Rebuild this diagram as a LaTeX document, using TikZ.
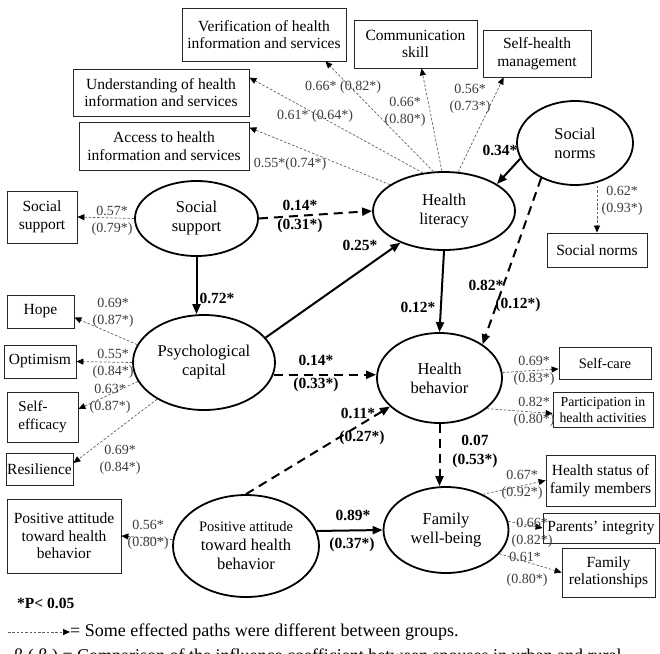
\documentclass[tikz,border=0pt]{standalone}
\usepackage{fontspec}
\setmainfont{Liberation Serif}
\usetikzlibrary{arrows.meta,calc,shapes.geometric}
\definecolor{lblgray}{RGB}{60,60,60}
\definecolor{indgray}{RGB}{95,95,95}
\begin{document}
\begin{tikzpicture}[x=1pt,y=-1pt,
 box/.style={draw=black!85, line width=0.8pt, align=center, inner sep=0pt, font=\fontsize{15.5}{17.5}\selectfont},
 smallbox/.style={box, font=\fontsize{13.8}{16}\selectfont},
 lat/.style={ellipse, draw, line width=1.8pt, align=center, inner sep=0pt, font=\fontsize{16.5}{19}\selectfont},
 lbl/.style={text=lblgray, align=center, inner sep=0pt, font=\fontsize{14}{16.5}\selectfont},
 blbl/.style={align=center, inner sep=0pt, font=\fontsize{15.5}{19}\selectfont\bfseries},
 ind/.style={draw=indgray, line width=0.7pt, dash pattern=on 2.5pt off 1.8pt, -{Triangle[length=7pt,width=6pt,color=black]}},
 sp/.style={line width=2pt, -{Triangle[length=10pt,width=8pt]}},
 dp/.style={sp, dash pattern=on 9pt off 6pt}]
\useasboundingbox (0,0) rectangle (660,653);

% indicator boxes
\node[box, minimum width=164pt, minimum height=53pt] (ver) at (264,34.5) {Verification of health\\information and services};
\node[box, minimum width=176pt, minimum height=47pt] (und) at (161,92.5) {Understanding of health\\information and services};
\node[box, minimum width=170pt, minimum height=48pt] (acc) at (164,146) {Access to health\\information and services};
\node[box, minimum width=123pt, minimum height=48pt] (comm) at (415.5,44) {Communication\\skill};
\node[box, minimum width=108pt, minimum height=47pt] (shm) at (537,53.5) {Self-health\\management};
\node[box, minimum width=100pt, minimum height=34pt] (snb) at (597,250) {Social norms};
\node[box, minimum width=70pt, minimum height=52pt] (ssb) at (42,217) {Social\\support};
\node[box, minimum width=67pt, minimum height=33pt] (hope) at (40.5,311.5) {Hope};
\node[box, minimum width=72pt, minimum height=33pt] (opt) at (40,361.5) {Optimism};
\node[box, font=\fontsize{15}{18}\selectfont, align=left, minimum width=71pt, minimum height=50pt] (se) at (42.5,417) {Self-\\efficacy};
\node[box, minimum width=67pt, minimum height=32pt] (res) at (39.5,469) {Resilience};
\node[smallbox, font=\fontsize{14.5}{16}\selectfont, minimum width=92pt, minimum height=32pt] (sc) at (605,363) {Self-care};
\node[smallbox, minimum width=100pt, minimum height=35pt] (part) at (603,409.5) {Participation in\\health activities};
\node[box, minimum width=109pt, minimum height=51pt] (hs) at (600.5,480.5) {Health status of\\family members};
\node[box, minimum width=116pt, minimum height=30pt] (pi) at (601,528) {Parents' integrity};
\node[box, minimum width=93pt, minimum height=49pt] (fr) at (608.5,572.5) {Family\\relationships};
\node[box, minimum width=114pt, minimum height=74pt] (pab) at (64,536) {Positive attitude\\toward health\\behavior};

% latent variables
\node[lat, minimum width=116pt, minimum height=84pt] (SN) at (575,143) {Social\\norms};
\node[lat, minimum width=142pt, minimum height=78pt] (HL) at (444,211) {Health\\literacy};
\node[lat, minimum width=123pt, minimum height=75pt] (SS) at (196.5,218.5) {Social\\support};
\node[lat, minimum width=142pt, minimum height=95pt] (PC) at (204,362.5) {Psychological\\capital};
\node[lat, minimum width=125pt, minimum height=90pt] (HB) at (439.5,378) {Health\\behavior};
\node[lat, minimum width=125pt, minimum height=86pt] (FWB) at (446,530) {Family\\well-being};
\node[lat, minimum width=146pt, minimum height=102pt] (PA) at (246,546) {{\fontsize{14.5}{19}\selectfont Positive attitude}\\toward health\\behavior};

% indicator arrows
\draw[ind] (HL.154) -- ($(acc.north east)+(0,6)$);
\draw[ind] (HL.119) -- ($(und.north east)+(0,9)$);
\draw[ind] (HL.105) -- ($(ver.south east)+(-21,0)$);
\draw[ind] (HL.93) -- ($(comm.south)+(6,0)$);
\draw[ind] (HL.70) -- ($(shm.south west)+(21,0)$);
\draw[ind] (SN.south -| snb.north) -- (snb.north);
\draw[ind] (SS.west) -- (ssb.east);
\draw[ind] (PC.165) -- ($(hope.east)+(0,6)$);
\draw[ind] (PC.west) -- (opt.east);
\draw[ind] (PC.196) -- ($(se.east)+(0,-8)$);
\draw[ind] (PC.218) -- ($(res.east)+(0,-6)$);
\draw[ind] (HB.5) -- ($(sc.west)+(0,6)$);
\draw[ind] (HB.-33) -- ($(part.west)+(0,4)$);
\draw[ind] (FWB.44) -- (hs.west);
\draw[ind] (FWB.8) -- (pi.west);
\draw[ind] (FWB.-24) -- (fr.west);
\draw[ind] (PA.175) -- (pab.east);

% structural paths
\draw[sp] (SN.196) -- (HL.27);
\draw[dp] (SN.226) -- (HB.38);
\draw[dp] (SS.east) -- (HL.west);
\draw[sp] (SS.south) -- (SS.south |- PC.north);
\draw[sp] (PC.22) -- (HL.216);
\draw[dp] (PC.-10) -- (PC.-10 -| HB.west);
\draw[sp] (HL.south) -- (HB.north);
\draw[dp] (PA.north) -- (HB.210);
\draw[dp] (HB.south) -- (HB.south |- FWB.north);
\draw[sp] (PA.12) -- (FWB.west);

% indicator loadings
\node[lbl] (lver) at (343,87) {0.66* (0.82*)};
\node[lbl] (lund) at (315,116) {0.61* (0.64*)};
\node[lbl] (lacc) at (290,164) {0.55*(0.74*)};
\node[lbl] (lcomm) at (405,112) {0.66*\\(0.80*)};
\node[lbl] (lshm) at (470,99) {0.56*\\(0.73*)};
\node[lbl] (lsn) at (622,201) {0.62*\\(0.93*)};
\node[lbl] (lss) at (112,221) {0.57*\\(0.79*)};
\node[lbl] (lhope) at (113,313) {0.69*\\(0.87*)};
\node[lbl] (lopt) at (113,364) {0.55*\\(0.84*)};
\node[lbl] (lse) at (110,399) {0.63*\\(0.87*)};
\node[lbl] (lres) at (120,460) {0.69*\\(0.84*)};
\node[lbl] (lsc) at (534,371) {0.69*\\(0.83*)};
\node[lbl] (lpart) at (534,412) {0.82*\\(0.80*)};
\node[lbl] (lhs) at (522,485) {0.67*\\(0.92*)};
\node[lbl] (lpi) at (532,533) {0.66*\\(0.82*)};
\node[lbl] (lfra) at (525,557) {0.61*};
\node[lbl] (lfrb) at (527,580) {(0.80*)};
\node[lbl] (lpa) at (148,535) {0.56*\\(0.80*)};

% path coefficients
\node[blbl] (b1) at (500,150) {0.34*};
\node[blbl] (b2a) at (300,205) {0.14*};
\node[blbl] (b2b) at (300,226) {(0.31*)};
\node[blbl] (b3) at (360,245) {0.25*};
\node[blbl] (b4) at (217,298) {0.72*};
\node[blbl] (b5) at (418,307) {0.12*};
\node[blbl] (b6a) at (486,285) {0.82*};
\node[blbl] (b6b) at (518,305) {(0.12*)};
\node[blbl] (b7a) at (316,360) {0.14*};
\node[blbl] (b7b) at (316,385) {(0.33*)};
\node[blbl] (b8a) at (358,413) {0.11*};
\node[blbl] (b8b) at (362,438) {(0.27*)};
\node[blbl] (b9) at (475,451) {0.07\\(0.53*)};
\node[blbl] (b10a) at (353,515) {0.89*};
\node[blbl] (b10b) at (352,545) {(0.37*)};

% legend
\node[blbl, anchor=west] (pnote) at (17,603) {*P< 0.05};
\coordinate (lg0) at (8,632);
\node[anchor=west, inner sep=0pt, font=\fontsize{18}{20}\selectfont] (lgt) at (70,632) {= Some effected paths were different between groups.};
\draw[ind] (lg0) -- (lgt.west);
\node[anchor=base west, inner sep=0pt, font=\fontsize{18}{20}\selectfont] (lgb) at (14,661) {β ( β ) = Comparison of the influence coefficient between spouses in urban and rural};
\end{tikzpicture}
\end{document}
